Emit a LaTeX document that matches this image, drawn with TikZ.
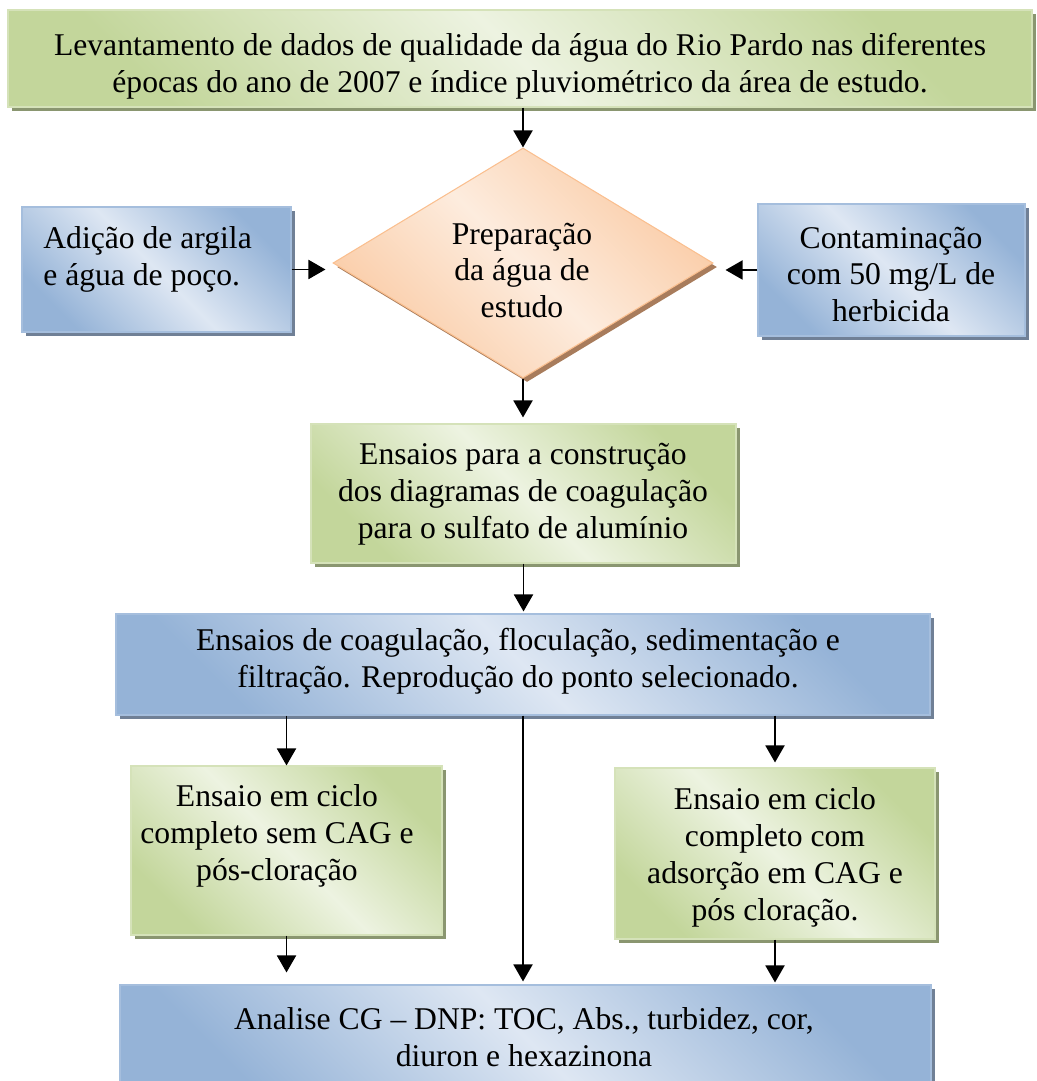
\documentclass[tikz,border=0pt]{standalone}
\usepackage{fontspec}
\setmainfont{Liberation Serif}
\usetikzlibrary{shapes.geometric,shadows,arrows.meta}

\definecolor{azulesc}{RGB}{149,179,215}
\definecolor{azulcla}{RGB}{222,231,243}
\definecolor{azulsom}{RGB}{112,128,150}
\definecolor{verdeesc}{RGB}{195,214,155}
\definecolor{verdecla}{RGB}{237,243,225}
\definecolor{verdesom}{RGB}{138,150,112}
\definecolor{laresc}{RGB}{250,203,165}
\definecolor{larcla}{RGB}{253,236,222}
\definecolor{larsom}{RGB}{168,124,92}
\definecolor{larborda}{RGB}{250,191,143}

\tikzset{
  caixa/.style={inner sep=0pt, line width=0.6pt,
    general shadow={fill=#1, shadow xshift=2.3pt, shadow yshift=-2.3pt}},
  azul/.style={caixa=azulsom, draw=azulesc!85!white,
    top color=azulesc, bottom color=azulesc, middle color=azulcla, shading angle=-45},
  verde/.style={caixa=verdesom, draw=verdeesc!70!white,
    top color=verdeesc, bottom color=verdeesc, middle color=verdecla, shading angle=-45},
  losango/.style={caixa=larsom, draw=larborda, diamond,
    top color=laresc, bottom color=laresc, middle color=larcla, shading angle=-45},
  texto/.style={align=center, inner sep=0pt},
  seta/.style={-{Triangle[length=3.4mm,width=3.8mm]}, line width=1.1pt}
}

\begin{document}
\begin{tikzpicture}[font=\fontsize{18}{21}\selectfont]
  \useasboundingbox (0,0) rectangle (20.72,21.62);

  % caixas
  \node[verde, minimum width=20.48cm, minimum height=1.94cm] (levant) at (10.40,20.45) {};
  \node[texto] (levant-t) at (10.40,20.30) {Levantamento de dados de qualidade da água do Rio Pardo nas diferentes\\
    épocas do ano de 2007 e índice pluviométrico da área de estudo.};

  \node[azul, minimum width=5.38cm, minimum height=2.50cm] (adicao) at (3.13,16.23) {};
  \node[texto, align=left, anchor=west] (adicao-t) at (0.86,16.43) {Adição de argila\\ e água de poço.};

  \node[losango, minimum width=7.60cm, minimum height=4.60cm] (prep) at (10.46,16.36) {};
  \node[texto] (prep-t) at (10.44,16.21) {Preparação\\ da água de\\ estudo};

  \node[azul, minimum width=5.34cm, minimum height=2.64cm] (contam) at (17.83,16.22) {};
  \node[texto] (contam-t) at (17.82,16.13) {Contaminação\\ com 50 mg/L de\\ herbicida};

  \node[verde, minimum width=8.50cm, minimum height=2.78cm] (diag) at (10.47,11.75) {};
  \node[texto] (diag-t) at (10.46,11.73) {Ensaios para a construção\\ dos diagramas de coagulação\\ para o sulfato de alumínio};

  \node[azul, minimum width=16.28cm, minimum height=2.02cm] (coag) at (10.46,8.33) {};
  \node[texto] (coag-t) at (10.36,8.40) {Ensaios de coagulação, floculação, sedimentação e\\
    filtração. Reprodução do ponto selecionado.};

  \node[verde, minimum width=6.22cm, minimum height=3.38cm] (semcag) at (5.73,4.61) {};
  \node[texto] (semcag-t) at (5.54,4.91) {Ensaio em ciclo\\ completo sem CAG e\\ pós-cloração};

  \node[verde, minimum width=6.40cm, minimum height=3.42cm] (comcag) at (15.50,4.55) {};
  \node[texto] (comcag-t) at (15.50,4.47) {Ensaio em ciclo\\ completo com\\ adsorção em CAG e\\ pós cloração.};

  \node[azul, minimum width=16.22cm, minimum height=2.10cm] (analise) at (10.51,0.87) {};
  \node[texto] (analise-t) at (10.48,0.87) {Analise CG – DNP: TOC, Abs., turbidez, cor,\\ diuron e hexazinona};

  % setas
  \draw[seta] (levant.south -| prep.north) -- (prep.north);
  \draw[seta, shorten >=0.14cm] (adicao.east) -- (adicao.east -| prep.west);
  \draw[seta, shorten >=0.24cm] (contam.west) -- (contam.west -| prep.east);
  \draw[seta, shorten >=0.12cm] (prep.south) -- (prep.south |- diag.north);
  \draw[seta, shorten >=0.04cm] (diag.south) -- (diag.south |- coag.north);
  \draw[seta] (coag.south -| semcag.north) -- (semcag.north);
  \draw[seta, shorten >=0.10cm] (coag.south -| comcag.north) -- (comcag.north);
  \draw[seta, shorten >=0.06cm] (coag.south) -- (coag.south |- analise.north);
  \draw[seta, shorten >=0.24cm] (semcag.south) -- (semcag.south |- analise.north);
  \draw[seta, shorten >=0.04cm] (comcag.south) -- (comcag.south |- analise.north);
\end{tikzpicture}
\end{document}
